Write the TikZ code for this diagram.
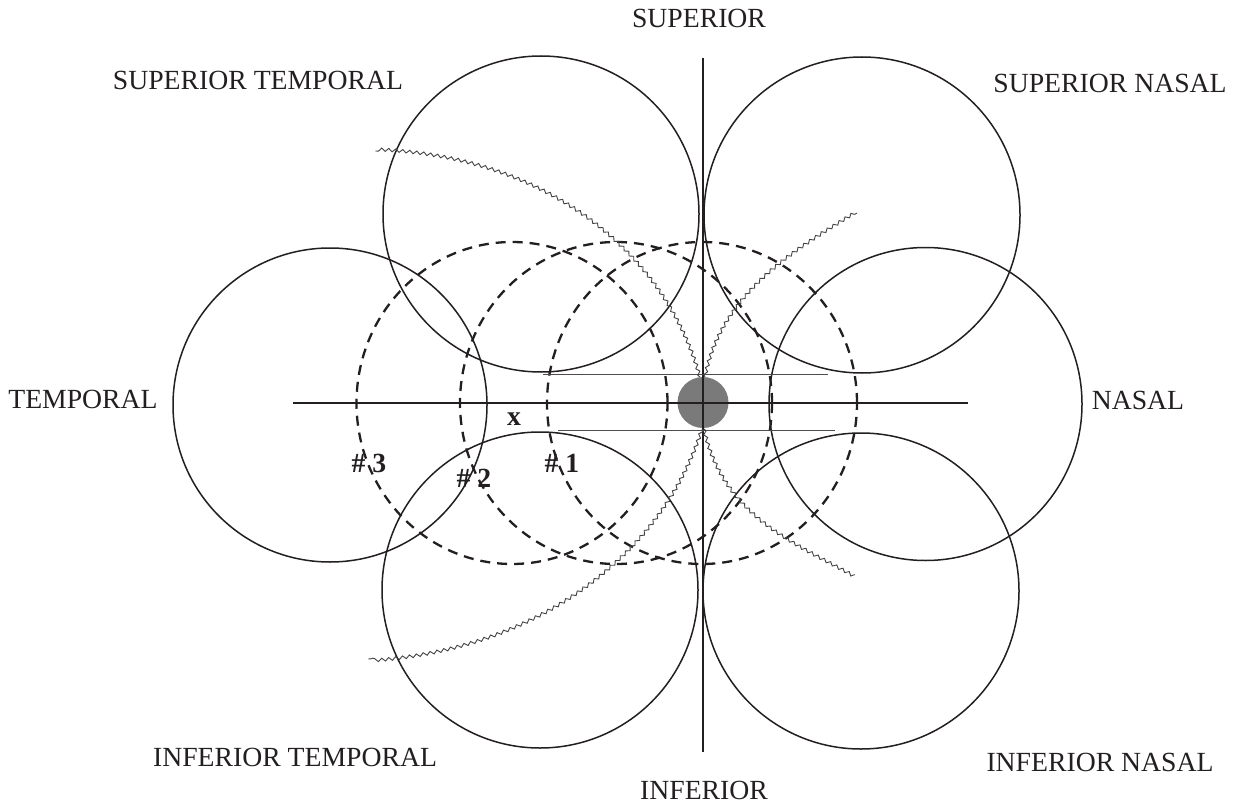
\documentclass[tikz,border=0pt]{standalone}
\usepackage{fontspec}
\setmainfont{Liberation Serif}
\usetikzlibrary{decorations.pathmorphing}
\definecolor{ink}{HTML}{231F20}
\tikzset{
  solidc/.style={draw=ink, line width=1.5pt},
  dashc/.style={draw=ink, line width=2.3pt, dash pattern=on 10pt off 7pt},
  axis/.style={draw=ink, line width=2pt},
  thin/.style={draw=ink!80, line width=1pt},
  wave/.style={draw=ink!85, line width=0.9pt, decorate,
    decoration={snake, amplitude=1.6pt, segment length=7pt}},
  lbl/.style={font=\fontsize{27.7}{32}\selectfont, anchor=base, inner sep=0pt, text=ink},
  num/.style={font=\fontsize{27.7}{32}\selectfont\bfseries, anchor=base, inner sep=0pt, text=ink}
}
\newcommand\bezwave[8]{\draw[wave] plot[variable=\t,domain=0:1,samples=80]
  ({(1-\t)^3*#1+3*(1-\t)^2*\t*#3+3*(1-\t)*\t^2*#5+\t^3*#7},
   {(1-\t)^3*#2+3*(1-\t)^2*\t*#4+3*(1-\t)*\t^2*#6+\t^3*#8});}
\begin{document}
\begin{tikzpicture}[x=1pt,y=-1pt]
\useasboundingbox (0,0) rectangle (1233,805);
% solid circles
\draw[solidc] (541,214) circle [radius=158pt];
\draw[solidc] (862,215) circle [radius=158pt];
\draw[solidc] (330,405) circle [radius=157pt];
\draw[solidc] (925.5,404) circle [radius=156.5pt];
\draw[solidc] (540,590) circle [radius=158pt];
\draw[solidc] (861,591) circle [radius=158pt];
% dashed circles
\draw[dashc] (512,403) ellipse [x radius=155.5pt, y radius=161pt];
\draw[dashc] (616,403) ellipse [x radius=156pt, y radius=161pt];
\draw[dashc] (702,403) ellipse [x radius=155pt, y radius=161pt];
% optic disc
\node[circle, fill=black!52, minimum size=51pt, inner sep=0pt] (disc) at (703,402.5) {};
% axes
\draw[axis] (703,58) -- (703,752);
\draw[axis] (293,403) -- (968,403);
\draw[thin] (543,374) -- (828,374);
\draw[thin] (558,430) -- (835,430);
% nerve fibre waves
\bezwave{700}{377}{664}{252}{545}{156}{375}{151}
\bezwave{702}{429}{663}{552}{538}{650}{368}{659}
\bezwave{705}{377}{723}{289}{806}{245}{857}{213}
\bezwave{704}{429}{724}{515}{794}{541}{855}{575}
% labels
\node[lbl] (sup) at (699,28) {SUPERIOR};
\node[lbl] (supt) at (258,90) {SUPERIOR TEMPORAL};
\node[lbl] (supn) at (1110,93) {SUPERIOR NASAL};
\node[lbl] (temp) at (83,408) {TEMPORAL};
\node[lbl] (nas) at (1138,409) {NASAL};
\node[lbl] (inft) at (295,766) {INFERIOR TEMPORAL};
\node[lbl] (infn) at (1100,771) {INFERIOR NASAL};
\node[lbl] (inf) at (704,799) {INFERIOR};
\node[num] (xm) at (514,425) {x};
\node[num] (n3) at (369,472) {\# 3};
\node[num] (n2) at (474,487) {\# 2};
\node[num] (n1) at (562,472) {\# 1};
\end{tikzpicture}
\end{document}
